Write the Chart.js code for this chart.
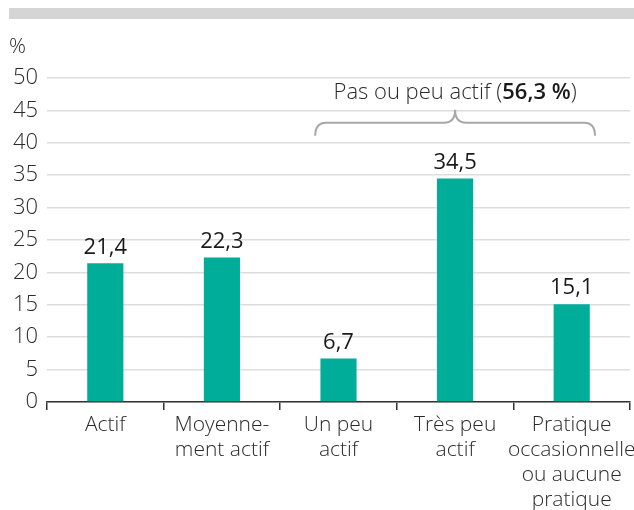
<!DOCTYPE html>
<html>
<head>
<meta charset="utf-8">
<script src="https://cdn.jsdelivr.net/npm/chart.js@4"></script>
<style>
    body { margin: 0; background: #fff; }
    #wrap { width: 634px; height: 510px; position: relative; }
</style>
</head>
<body>
<div id="wrap"><canvas id="chart"></canvas></div>
<script>
// Data
const categories = [
    ['Actif'],
    ['Moyenne-', 'ment actif'],
    ['Un peu', 'actif'],
    ['Très peu', 'actif'],
    ['Pratique', 'occasionnelle', 'ou aucune', 'pratique']
];
const values = [21.4, 22.3, 6.7, 34.5, 15.1];
const yTicks = [0, 5, 10, 15, 20, 25, 30, 35, 40, 45, 50];
const groupText = 'Pas ou peu actif (';
const groupValue = '56,3 %';
const groupRange = [2, 4];   // categories covered by the brace
const unitLabel = '%';

const FONT = "'Open Sans', 'Noto Sans', sans-serif";
const TEXT = '#2b2b2b';
const BAR = '#00ad98';

function fmt(v) {
    return v.toFixed(1).replace('.', ',');
}

// Decorations: top band, unit, value labels, brace
const decorPlugin = {
    id: 'decor',
    beforeDraw(chart) {
        const ctx = chart.ctx;
        ctx.save();
        ctx.fillStyle = '#d5d5d5';
        ctx.fillRect(9, 8, chart.width - 9, 11);
        ctx.fillStyle = TEXT;
        ctx.font = '300 21px ' + FONT;
        ctx.textAlign = 'left';
        ctx.textBaseline = 'middle';
        ctx.fillText(unitLabel, 9, 47);
        ctx.restore();
    },
    afterDatasetsDraw(chart) {
        const ctx = chart.ctx;
        const meta = chart.getDatasetMeta(0);
        const xs = chart.scales.x;
        const ys = chart.scales.y;
        ctx.save();

        // value labels
        ctx.fillStyle = '#1a1a1a';
        ctx.font = '22px ' + FONT;
        ctx.textAlign = 'center';
        ctx.textBaseline = 'bottom';
        meta.data.forEach((bar, i) => {
            ctx.fillText(fmt(values[i]), bar.x, bar.y - 5);
        });

        // brace
        const step = xs.getPixelForValue(1) - xs.getPixelForValue(0);
        const x0 = xs.getPixelForValue(groupRange[0]) - 0.2 * step;
        const x1 = xs.getPixelForValue(groupRange[1]) + 0.2 * step;
        const xm = (x0 + x1) / 2;
        const yb = ys.getPixelForValue(41.1);
        const yl = ys.getPixelForValue(43.1);
        const yt = ys.getPixelForValue(45.1);
        const r = 11;
        ctx.strokeStyle = '#a8a8a8';
        ctx.lineWidth = 2;
        ctx.beginPath();
        ctx.moveTo(x0, yb);
        ctx.quadraticCurveTo(x0, yl, x0 + r, yl);
        ctx.lineTo(xm - r, yl);
        ctx.quadraticCurveTo(xm, yl, xm, yt);
        ctx.quadraticCurveTo(xm, yl, xm + r, yl);
        ctx.lineTo(x1 - r, yl);
        ctx.quadraticCurveTo(x1, yl, x1, yb);
        ctx.stroke();

        // brace label with bold value
        const ty = ys.getPixelForValue(47.8);
        const normal = '300 22px ' + FONT;
        const bold = '600 22px ' + FONT;
        ctx.font = normal;
        const w1 = ctx.measureText(groupText).width;
        const w3 = ctx.measureText(')').width;
        ctx.font = bold;
        const w2 = ctx.measureText(groupValue).width;
        let x = xm - (w1 + w2 + w3) / 2;
        ctx.textAlign = 'left';
        ctx.textBaseline = 'middle';
        ctx.fillStyle = TEXT;
        ctx.font = normal;
        ctx.fillText(groupText, x, ty);
        x += w1;
        ctx.font = bold;
        ctx.fillStyle = '#1a1a1a';
        ctx.fillText(groupValue, x, ty);
        x += w2;
        ctx.font = normal;
        ctx.fillStyle = TEXT;
        ctx.fillText(')', x, ty);
        ctx.restore();
    }
};

const ctx = document.getElementById('chart');
new Chart(ctx, {
    type: 'bar',
    data: {
        labels: categories,
        datasets: [{
            data: values,
            backgroundColor: BAR,
            borderWidth: 0,
            barPercentage: 0.31,
            categoryPercentage: 1.0
        }]
    },
    options: {
        responsive: true,
        maintainAspectRatio: false,
        animation: false,
        layout: {
            padding: { top: 78, right: 4, left: 0, bottom: 0 }
        },
        plugins: {
            legend: { display: false },
            tooltip: { enabled: false }
        },
        scales: {
            x: {
                offset: true,
                grid: {
                    display: true,
                    offset: true,
                    drawOnChartArea: false,
                    drawTicks: true,
                    tickLength: 8,
                    color: '#333',
                    lineWidth: 1.5
                },
                border: { display: true, color: '#333', width: 1.5 },
                ticks: {
                    color: TEXT,
                    padding: 3,
                    maxRotation: 0,
                    autoSkip: false,
                    font: { family: FONT, size: 21, weight: '300', lineHeight: 1.19 }
                },
                afterFit(scale) {
                    scale.height = 108;
                    scale.paddingRight = 0;
                }
            },
            y: {
                min: 0,
                max: 50,
                afterBuildTicks(scale) {
                    scale.ticks = yTicks.map(v => ({ value: v }));
                },
                grid: {
                    color: '#dddddd',
                    lineWidth: 1.5,
                    drawTicks: false
                },
                border: { display: false },
                ticks: {
                    color: TEXT,
                    padding: 9,
                    font: { family: FONT, size: 22, weight: '300' }
                },
                afterFit(scale) { scale.width = 47; }
            }
        }
    },
    plugins: [decorPlugin]
});
</script>
</body>
</html>
